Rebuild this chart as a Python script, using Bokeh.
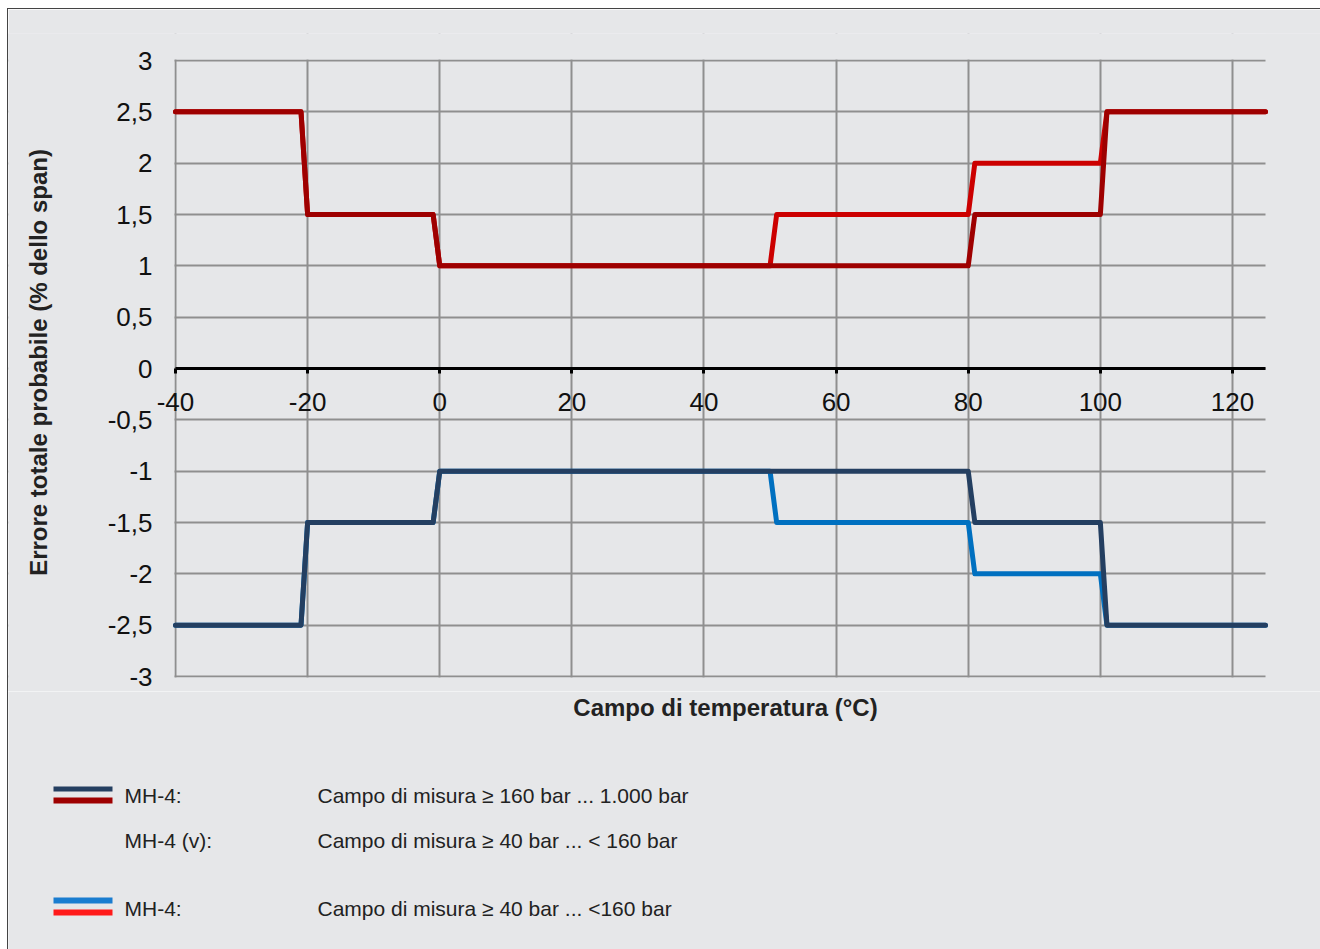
from bokeh.plotting import figure
from bokeh.layouts import column
from bokeh.models import (FixedTicker, BoxAnnotation, Range1d,
                          CustomJSTickFormatter)
from bokeh.core.properties import value
from bokeh.embed import file_html
from bokeh.resources import INLINE

# ---------------- data ----------------
temp_ticks = [-40, -20, 0, 20, 40, 60, 80, 100, 120]
temp_labels = ["-40", "-20", "0", "20", "40", "60", "80", "100", "120"]
err_ticks = [-3, -2.5, -2, -1.5, -1, -0.5, 0, 0.5, 1, 1.5, 2, 2.5, 3]
err_labels = ["-3", "-2,5", "-2", "-1,5", "-1", "-0,5", "0", "0,5", "1", "1,5", "2", "2,5", "3"]

# MH-4 >= 160 bar ... 1.000 bar  /  MH-4 (v)
t_hi = [-40, -21, -20, -1, 0, 80, 81, 100, 101, 125]
err_hi_pos = [2.5, 2.5, 1.5, 1.5, 1, 1, 1.5, 1.5, 2.5, 2.5]
err_hi_neg = [-2.5, -2.5, -1.5, -1.5, -1, -1, -1.5, -1.5, -2.5, -2.5]

# MH-4 >= 40 bar ... <160 bar
t_lo = [-40, -21, -20, -1, 0, 50, 51, 80, 81, 100, 101, 125]
err_lo_pos = [2.5, 2.5, 1.5, 1.5, 1, 1, 1.5, 1.5, 2, 2, 2.5, 2.5]
err_lo_neg = [-2.5, -2.5, -1.5, -1.5, -1, -1, -1.5, -1.5, -2, -2, -2.5, -2.5]

x_title = "Campo di temperatura (°C)"
y_title = "Errore totale probabile (% dello span)"
legend_names = ["MH-4:", "MH-4 (v):", "MH-4:"]
legend_ranges = ["Campo di misura ≥ 160 bar ... 1.000 bar",
                 "Campo di misura ≥ 40 bar ... < 160 bar",
                 "Campo di misura ≥ 40 bar ... <160 bar"]

NAVY = "#243f61"
DARKRED = "#9e0000"
BLUE = "#0070c0"
RED = "#cc0000"
BG = "#e6e7e9"
GRID = "#8f8f8f"
FONT = "Liberation Sans"
TXT = "#222222"

T_MIN, T_MAX = -40, 125
E_MIN, E_MAX = -3, 3
OX, OY = 8, 9                         # canvas origin on the page
W = 1312
AL, AR, AT, AB = 175, 1265, 60, 676   # plotting area (-40..125, -3..3) in page coordinates
FT, FB = 33, 691                      # frame top/bottom (room for end labels, centres y title)
H1 = FB - OY                          # main chart canvas height
H2 = 949 - OY - H1                    # lower panel (x title + legend)

# the frame spans the full canvas width; the visible plot area is -40..125 x -3..3
px_per_deg = (AR - AL) / (T_MAX - T_MIN)
px_per_unit = (AB - AT) / (E_MAX - E_MIN)
x_lo = T_MIN - (AL - OX) / px_per_deg
x_hi = T_MAX + (OX + W - AR) / px_per_deg
y_lo = E_MIN - (FB - AB) / px_per_unit
y_hi = E_MAX + (AT - FT) / px_per_unit

p = figure(width=W, height=H1, output_backend="svg", toolbar_location=None,
           x_range=Range1d(x_lo, x_hi), y_range=Range1d(y_lo, y_hi),
           min_border_left=0, min_border_right=0,
           min_border_top=FT - OY, min_border_bottom=0,
           background_fill_color=BG, border_fill_color=BG,
           outline_line_color=None)


def make_formatter(tv, tl):
    return CustomJSTickFormatter(args=dict(tv=tv, tl=tl), code="""
for (let i = 0; i < tv.length; i++) { if (Math.abs(tv[i] - tick) < 1e-9) return tl[i]; }
return String(tick);
""")


# grids
p.xgrid.ticker = FixedTicker(ticks=temp_ticks)
p.ygrid.ticker = FixedTicker(ticks=err_ticks)
for g in (p.xgrid, p.ygrid):
    g.grid_line_color = GRID
    g.grid_line_width = 2

# hide grid lines outside -40..125 x -3..3
eps_x = 1.1 / px_per_deg
eps_y = 1.1 / px_per_unit
for kw in [dict(right=T_MIN - eps_x), dict(left=T_MAX),
           dict(bottom=E_MAX + eps_y), dict(top=E_MIN - eps_y)]:
    p.add_layout(BoxAnnotation(fill_color=BG, fill_alpha=1, line_color=None,
                               level="underlay", **kw))

# lines (bright first, dark on top)
for xs, ys, c in [(t_lo, err_lo_pos, RED), (t_lo, err_lo_neg, BLUE),
                  (t_hi, err_hi_pos, DARKRED), (t_hi, err_hi_neg, NAVY)]:
    p.line(xs, ys, line_color=c, line_width=5, line_join="round", line_cap="round")

# x axis at y = 0
xa = p.xaxis[0]
xa.fixed_location = 0
xa.bounds = (T_MIN, T_MAX)
xa.ticker = FixedTicker(ticks=temp_ticks)
xa.formatter = make_formatter(temp_ticks, temp_labels)
xa.axis_line_color = "black"
xa.axis_line_width = 3
xa.major_tick_line_color = "black"
xa.major_tick_line_width = 3
xa.major_tick_in = 0
xa.major_tick_out = 5
xa.minor_tick_line_color = None
xa.major_label_text_font = FONT
xa.major_label_text_font_size = "26px"
xa.major_label_text_color = "#111111"
xa.major_label_standoff = 19

# y axis at x = -40
ya = p.yaxis[0]
ya.fixed_location = T_MIN
ya.ticker = FixedTicker(ticks=err_ticks)
ya.formatter = make_formatter(err_ticks, err_labels)
ya.axis_line_color = None
ya.major_tick_line_color = None
ya.minor_tick_line_color = None
ya.major_tick_out = 0
ya.major_tick_in = 0
ya.major_label_standoff = 23
ya.major_label_text_font = FONT
ya.major_label_text_font_size = "26px"
ya.major_label_text_color = "#111111"
ya.axis_label = y_title
ya.axis_label_text_font = FONT
ya.axis_label_text_font_size = "24px"
ya.axis_label_text_font_style = "bold"
ya.axis_label_text_color = TXT
ya.axis_label_standoff = 53

# ---------------- lower panel: x title + legend (page-pixel coordinates) ----------------
q = figure(width=W, height=H2, output_backend="svg", toolbar_location=None,
           x_range=Range1d(OX, OX + W), y_range=Range1d(949, 949 - H2),
           min_border=0, x_axis_location=None, y_axis_location=None,
           background_fill_color=BG, border_fill_color=BG, outline_line_color=None)
q.grid.visible = False

q.text(x=[(AL + AR) / 2 + 5], y=[707], text=[x_title], text_font=value(FONT),
       text_font_size="24px", text_font_style="bold", text_color=TXT,
       text_align="center", text_baseline="middle")

sw_left = [53, 53, 53, 53]
sw_right = [112, 112, 112, 112]
sw_top = [786, 797, 897, 909]
sw_bottom = [791, 803, 903, 915]
sw_color = [NAVY, DARKRED, "#1a7dd0", "#ff1a1a"]
q.quad(left=sw_left, right=sw_right, top=sw_top, bottom=sw_bottom,
       fill_color=sw_color, line_color=None)

row_y = [795, 840, 908]
q.text(x=[124] * 3, y=row_y, text=legend_names, text_font=value(FONT),
       text_font_size="21px", text_color=TXT, text_align="left", text_baseline="middle")
q.text(x=[317] * 3, y=row_y, text=legend_ranges, text_font=value(FONT),
       text_font_size="21px", text_color=TXT, text_align="left", text_baseline="middle")

layout = column(p, q, spacing=0,
                styles={"border-top": "1px solid #444", "border-left": "1px solid #444",
                        "margin-left": "7px", "margin-top": "8px"})

open("out.html", "w").write(file_html(layout, INLINE))
